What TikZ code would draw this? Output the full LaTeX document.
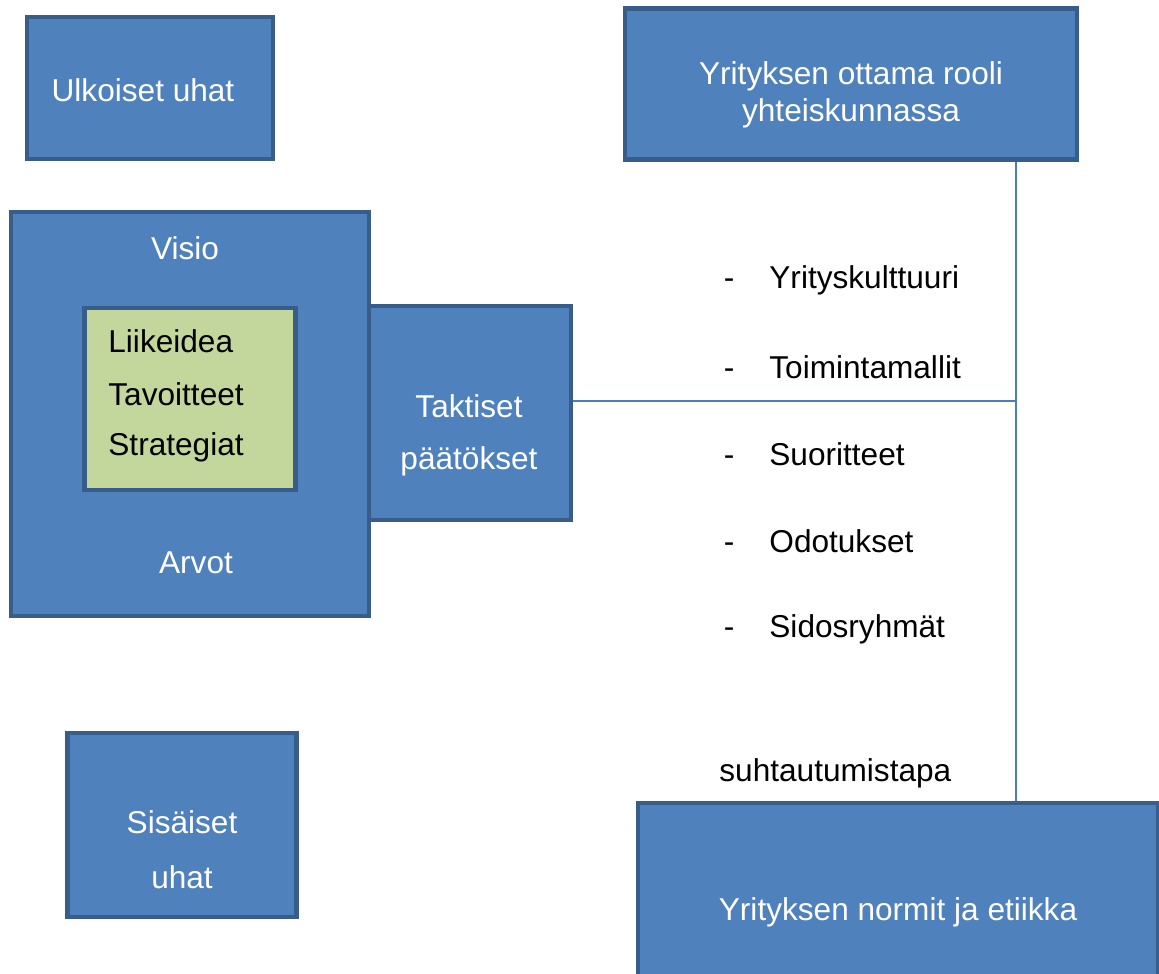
\documentclass[tikz,border=0pt]{standalone}
\usepackage{fontspec}
\setmainfont{Liberation Sans}
\usetikzlibrary{positioning}

\definecolor{boxblue}{HTML}{4F81BD}
\definecolor{boxedge}{HTML}{385D8A}
\definecolor{boxgreen}{HTML}{C3D69B}
\definecolor{linkblue}{HTML}{4A7EBB}

\tikzset{
  blok/.style={draw=boxedge, fill=boxblue, line width=2.2pt, inner sep=0pt},
  greenblok/.style={blok, fill=boxgreen},
  wtxt/.style={text=white, font=\fontsize{15.8}{19}\selectfont, inner sep=0pt},
  btxt/.style={text=black, font=\fontsize{15.8}{19}\selectfont, inner sep=0pt},
  link/.style={draw=linkblue, line width=1pt}
}

\begin{document}
\begin{tikzpicture}[x=0.5pt,y=-0.5pt]
  \useasboundingbox (0,0) rectangle (1159,973);
  \clip (0,0) rectangle (1159,973);

  % boxes
  \node[blok, minimum width=123pt, minimum height=71pt] (ulk) at (150,88) {};
  \node[blok, minimum width=226pt, minimum height=75.5pt] (rooli) at (851,84) {};
  \node[blok, minimum width=179pt, minimum height=202pt] (visio) at (190,414) {};
  \node[greenblok, minimum width=105.5pt, minimum height=91pt] (ydin) at (190,399) {};
  \node[blok, minimum width=101pt, minimum height=107pt] (taktiset) at (470,413) {};
  \node[blok, minimum width=114.5pt, minimum height=92pt] (sis) at (182,825) {};
  \node[blok, minimum width=260pt, minimum height=109pt] (normit) at (898,912) {};

  % texts
  \node[wtxt] (ulkt) at (143,90) {Ulkoiset uhat};
  \node[wtxt] (roolit1) at (851,76) {Yrityksen ottama rooli};
  \node[wtxt] (roolit2) at (851,113) {yhteiskunnassa};
  \node[wtxt] (visiot) at (185,248) {Visio};
  \node[wtxt] (arvot) at (196,563) {Arvot};
  \node[btxt, anchor=west] (liike) at (108,341) {Liikeidea};
  \node[btxt, anchor=west] (tavoit) at (108,394) {Tavoitteet};
  \node[btxt, anchor=west] (strat) at (108,447) {Strategiat};
  \node[wtxt] (takt1) at (469,406) {Taktiset};
  \node[wtxt] (takt2) at (469,461) {päätökset};
  \node[wtxt] (sist1) at (182,822) {Sisäiset};
  \node[wtxt] (sist2) at (182,877) {uhat};
  \node[wtxt] (normt) at (898,912) {Yrityksen normit ja etiikka};

  % list
  \coordinate (dashx) at (729,0);
  \node[btxt, anchor=west] (kult) at (769,280) {Yrityskulttuuri};
  \node[btxt, anchor=base] (d1) at (kult.base -| dashx) {-};
  \node[btxt, anchor=west] (toim) at (769,367) {Toimintamallit};
  \node[btxt, anchor=base] (d2) at (toim.base -| dashx) {-};
  \node[btxt, anchor=west] (suor) at (769,454) {Suoritteet};
  \node[btxt, anchor=base] (d3) at (suor.base -| dashx) {-};
  \node[btxt, anchor=west] (odot) at (769,541) {Odotukset};
  \node[btxt, anchor=base] (d4) at (odot.base -| dashx) {-};
  \node[btxt, anchor=west] (sido) at (769,629) {Sidosryhmät};
  \node[btxt, anchor=base] (d5) at (sido.base -| dashx) {-};
  \node[btxt, anchor=west] (suht) at (719,773) {suhtautumistapa};

  % connectors
  \coordinate (joint) at (1016,401);
  \draw[link] (rooli.south -| joint) -- (normit.north -| joint);
  \draw[link] (taktiset.east |- joint) -- (joint);
\end{tikzpicture}
\end{document}
